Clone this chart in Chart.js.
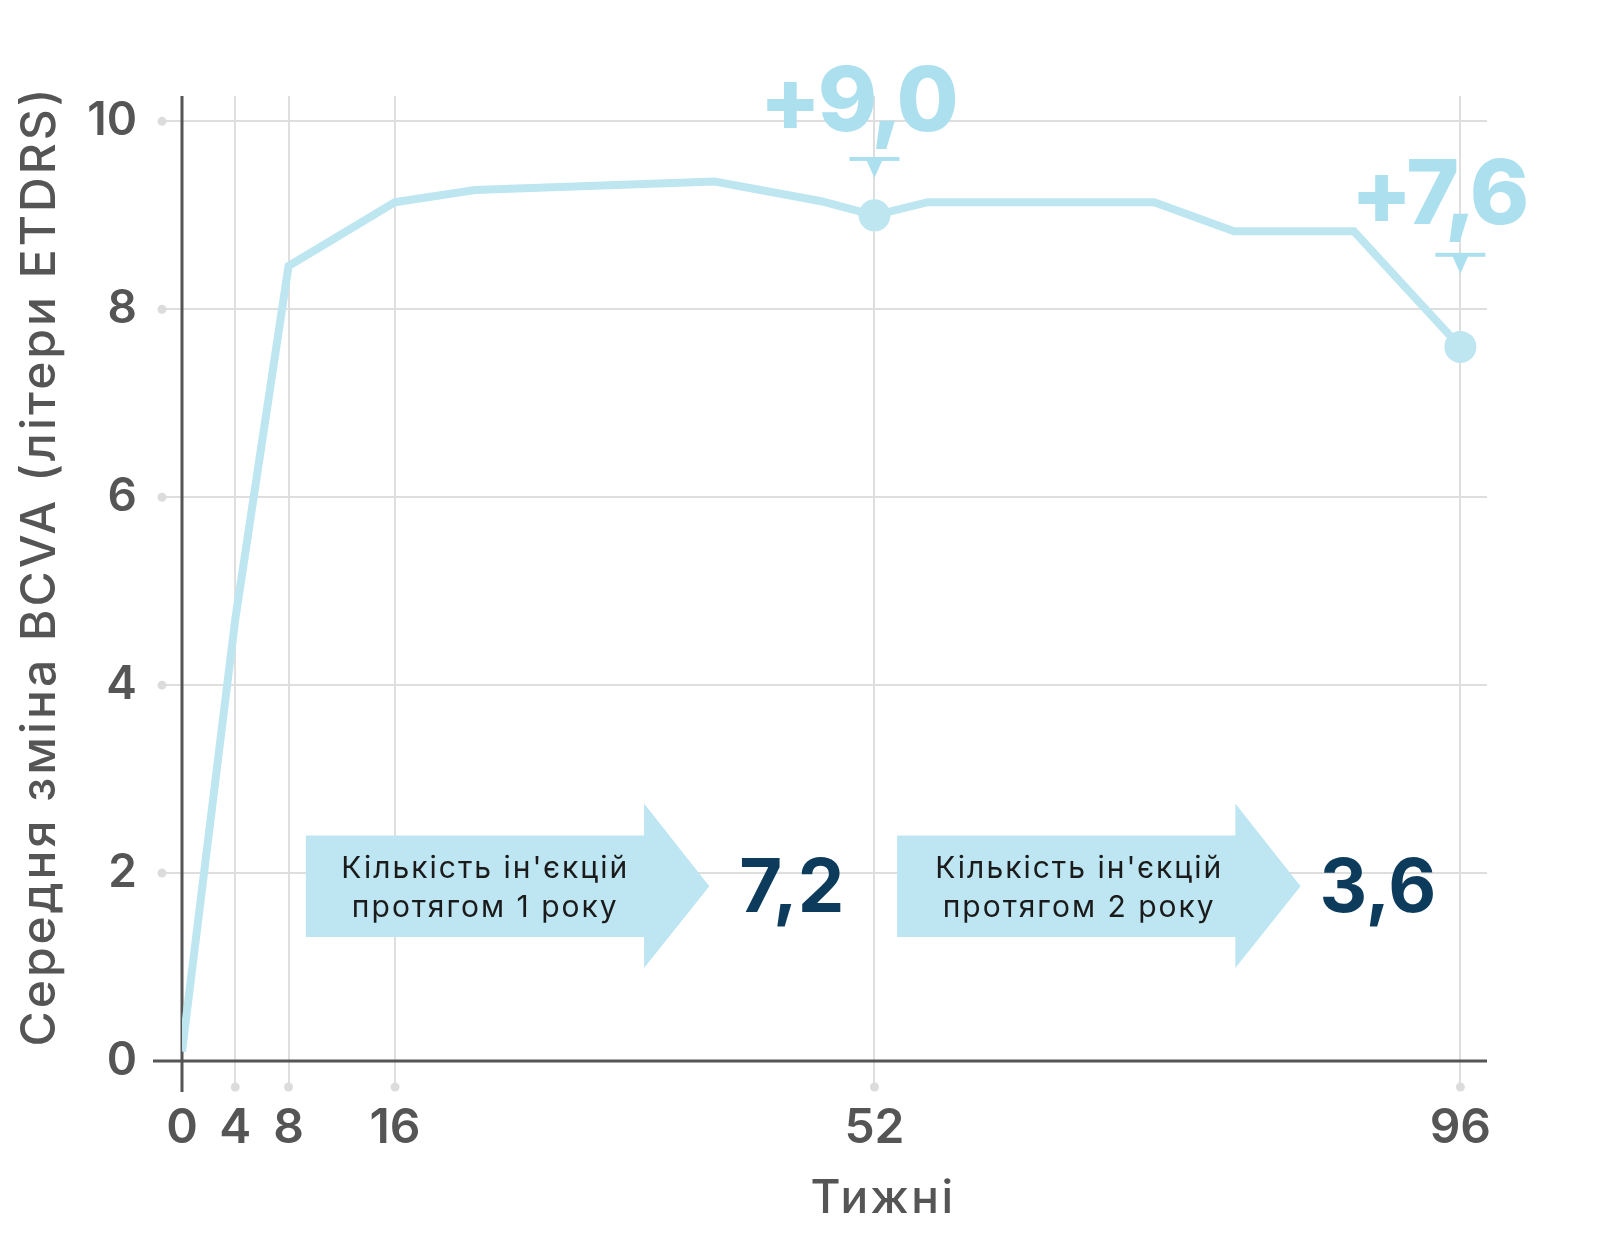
<!DOCTYPE html>
<html><head><meta charset="utf-8">
<script src="https://cdn.jsdelivr.net/npm/chart.js@4.4.1/dist/chart.umd.min.js"></script>
<style>html,body{margin:0;padding:0;background:#fff;}canvas{display:block;}</style>
</head><body>
<canvas id="c" width="1619" height="1235"></canvas>
<script>
// ---- data ----
const weeks = [0, 4, 8, 16, 22, 40, 48, 52, 56, 73, 79, 88, 96];
const changeBCVA = [0.1, 4.7, 8.46, 9.14, 9.27, 9.36, 9.15, 9.0, 9.14, 9.14, 8.83, 8.83, 7.6];
const xTickValues = [0, 4, 8, 16, 52, 96];
const yTickValues = [0, 2, 4, 6, 8, 10];
const highlightWeeks = [52, 96];
const highlightLabels = ['+9,0', '+7,6'];
const arrowLines = [["Кількість ін'єкцій", 'протягом 1 року'], ["Кількість ін'єкцій", 'протягом 2 року']];
const injectionCounts = ['7,2', '3,6'];
const xTitle = 'Тижні';
const yTitle = 'Середня зміна BCVA (літери ETDRS)';

// ---- annotation layout (data coordinates) ----
const highlightLayout = [
  {barY: 9.6, labelY: 9.9, labelDx: -17},
  {barY: 8.58, labelY: 8.91, labelDx: -22}
];
const arrowLayout = [
  {x0: 9.3, x1: 34.7, tip: 39.6, textX: 22.7, numX: 45.8},
  {x0: 53.7, x1: 79.1, tip: 84.0, textX: 67.3, numX: 89.8}
];
const arrowY = {bodyTop: 2.4, bodyBottom: 1.32, headTop: 2.74, headBottom: 0.99, mid: 1.86, line1: 1.95, line2: 1.53, num: 1.59};

const LINE = '#bde6f1';
const LABEL = '#ade0ef';
const GRID = '#dedede';
const AXIS = '#555555';

function spaced(ctx, px) { if ('letterSpacing' in ctx) ctx.letterSpacing = px + 'px'; }

const decor = {
  id: 'decor',
  beforeDatasetsDraw(chart) {
    const {ctx, chartArea: a, scales: {x, y}} = chart;
    ctx.save();
    ctx.fillStyle = '#dcdcdc';
    yTickValues.forEach(v => {
      if (v === 0) return;
      ctx.beginPath(); ctx.arc(a.left - 20, y.getPixelForValue(v), 4.5, 0, Math.PI * 2); ctx.fill();
    });
    xTickValues.forEach(v => {
      if (v === 0) return;
      ctx.beginPath(); ctx.arc(x.getPixelForValue(v), a.bottom + 26, 4.5, 0, Math.PI * 2); ctx.fill();
    });
    // arrows
    arrowLayout.forEach((ar, i) => {
      ctx.fillStyle = '#bde6f2';
      ctx.beginPath();
      ctx.moveTo(x.getPixelForValue(ar.x0), y.getPixelForValue(arrowY.bodyTop));
      ctx.lineTo(x.getPixelForValue(ar.x1), y.getPixelForValue(arrowY.bodyTop));
      ctx.lineTo(x.getPixelForValue(ar.x1), y.getPixelForValue(arrowY.headTop));
      ctx.lineTo(x.getPixelForValue(ar.tip), y.getPixelForValue(arrowY.mid));
      ctx.lineTo(x.getPixelForValue(ar.x1), y.getPixelForValue(arrowY.headBottom));
      ctx.lineTo(x.getPixelForValue(ar.x1), y.getPixelForValue(arrowY.bodyBottom));
      ctx.lineTo(x.getPixelForValue(ar.x0), y.getPixelForValue(arrowY.bodyBottom));
      ctx.closePath(); ctx.fill();
      ctx.fillStyle = '#1b1b1b';
      ctx.font = '400 30px Inter';
      spaced(ctx, 2);
      ctx.textAlign = 'center'; ctx.textBaseline = 'alphabetic';
      ctx.fillText(arrowLines[i][0], x.getPixelForValue(ar.textX) + 1, y.getPixelForValue(arrowY.line1));
      ctx.fillText(arrowLines[i][1], x.getPixelForValue(ar.textX) + 1, y.getPixelForValue(arrowY.line2));
      spaced(ctx, 0);
      ctx.fillStyle = '#0c3b5b';
      ctx.font = '700 74px Inter';
      ctx.fillText(injectionCounts[i], x.getPixelForValue(ar.numX), y.getPixelForValue(arrowY.num));
    });
    // axes
    ctx.strokeStyle = AXIS; ctx.lineWidth = 3;
    ctx.beginPath(); ctx.moveTo(a.left, a.top); ctx.lineTo(a.left, a.bottom + 31); ctx.stroke();
    ctx.beginPath(); ctx.moveTo(a.left - 29, a.bottom); ctx.lineTo(a.right, a.bottom); ctx.stroke();
    // axis titles
    ctx.fillStyle = AXIS;
    ctx.font = '500 46px Inter';
    spaced(ctx, 2.5);
    ctx.textAlign = 'center'; ctx.textBaseline = 'alphabetic';
    ctx.fillText(xTitle, 883, 1213);
    ctx.translate(55, 566);
    ctx.rotate(-Math.PI / 2);
    ctx.font = '500 48px Inter';
    spaced(ctx, 3);
    ctx.fillText(yTitle, 0, 0);
    ctx.restore();
  },
  afterDatasetsDraw(chart) {
    const {ctx, scales: {x, y}} = chart;
    ctx.save();
    highlightWeeks.forEach((w, i) => {
      const px = x.getPixelForValue(w);
      const by = y.getPixelForValue(highlightLayout[i].barY);
      ctx.fillStyle = LABEL;
      ctx.fillRect(px - 25, by - 2, 50, 4);
      ctx.beginPath();
      ctx.moveTo(px - 8, by + 1); ctx.lineTo(px + 8, by + 1); ctx.lineTo(px, by + 19);
      ctx.closePath(); ctx.fill();
      ctx.font = '800 90px Inter';
      spaced(ctx, -3.5);
      ctx.textAlign = 'center'; ctx.textBaseline = 'alphabetic';
      ctx.fillText(highlightLabels[i], px + highlightLayout[i].labelDx, y.getPixelForValue(highlightLayout[i].labelY));
    });
    ctx.restore();
  }
};

new Chart(document.getElementById('c'), {
  type: 'line',
  data: {
    datasets: [{
      data: weeks.map((w, i) => ({x: w, y: changeBCVA[i]})),
      borderColor: LINE,
      backgroundColor: LINE,
      borderWidth: 8,
      tension: 0,
      borderJoinStyle: 'miter',
      pointRadius: ctx => highlightWeeks.includes(weeks[ctx.dataIndex]) ? 16 : 0,
      pointBorderWidth: 0,
      pointBackgroundColor: LINE
    }]
  },
  options: {
    responsive: false,
    devicePixelRatio: 1,
    animation: false,
    layout: {padding: {top: 96, right: 132, left: 0, bottom: 0}},
    plugins: {legend: {display: false}, tooltip: {enabled: false}},
    scales: {
      x: {
        type: 'linear', min: 0, max: 98,
        afterBuildTicks: s => { s.ticks = xTickValues.map(v => ({value: v})); },
        afterFit: s => { s.height = 174; },
        border: {display: false},
        grid: {
          color: c => c.tick && c.tick.value === 0 ? 'rgba(0,0,0,0)' : GRID,
          tickColor: c => c.tick && c.tick.value === 0 ? 'rgba(0,0,0,0)' : GRID,
          lineWidth: 2, tickLength: 22
        },
        ticks: {color: AXIS, font: {family: 'Inter', size: 48, weight: '600'}, padding: 17, maxRotation: 0, autoSkip: false}
      },
      y: {
        min: 0, max: 10.27,
        afterBuildTicks: s => { s.ticks = yTickValues.map(v => ({value: v})); },
        afterFit: s => { s.width = 182; },
        border: {display: false},
        grid: {
          color: c => c.tick && c.tick.value === 0 ? 'rgba(0,0,0,0)' : GRID,
          tickColor: c => c.tick && c.tick.value === 0 ? 'rgba(0,0,0,0)' : GRID,
          lineWidth: 2, tickLength: 16
        },
        ticks: {color: AXIS, font: {family: 'Inter', size: 46, weight: '600'}, padding: 29}
      }
    }
  },
  plugins: [decor]
});
</script>
</body></html>
